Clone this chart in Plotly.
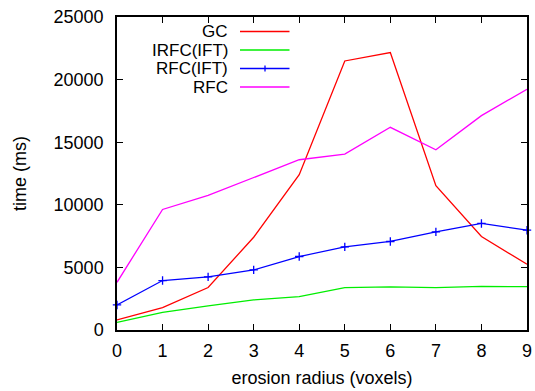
import plotly.graph_objects as go

x_vals = [0, 1, 2, 3, 4, 5, 6, 7, 8, 9]
gc = [800, 1790, 3390, 7410, 12400, 21490, 22160, 11520, 7470, 5250]
irfc_ift = [610, 1410, 1920, 2400, 2670, 3390, 3440, 3390, 3490, 3460]
rfc_ift = [2000, 3950, 4240, 4800, 5870, 6640, 7070, 7840, 8510, 7970]
rfc = [3810, 9630, 10750, 12150, 13600, 14050, 16190, 14400, 17120, 19230]
y_ticks = [0, 5000, 10000, 15000, 20000, 25000]

series_names = ["GC", "IRFC(IFT)", "RFC(IFT)", "RFC"]
series_colors = ["#ff0000", "#00ee00", "#0000ff", "#ff00ff"]
series_data = [gc, irfc_ift, rfc_ift, rfc]

FONT = "Liberation Sans, Arial, Helvetica, sans-serif"
FS = 18
LFS = 17

fig = go.Figure()
for name, color, data in zip(series_names, series_colors, series_data):
    fig.add_trace(go.Scatter(
        x=x_vals, y=data, name=name, mode="lines+markers" if name == "RFC(IFT)" else "lines",
        line=dict(color=color, width=1.3),
        marker=dict(symbol="cross-thin", size=6, line=dict(color=color, width=1.3)),
        showlegend=False, cliponaxis=False,
    ))

# custom gnuplot-style legend (text right-aligned, sample to the right)
W, H = 410.0, 313.0
legend_y_px = [14.5, 33, 51.5, 70]  # offsets from top of plot area
shapes = []
annotations = []
for name, color, ypx in zip(series_names, series_colors, legend_y_px):
    yp = 1 - ypx / H
    annotations.append(dict(text=name, x=(230 - 117) / W, y=yp, xref="paper", yref="paper",
                            xanchor="right", yanchor="middle", showarrow=False,
                            font=dict(family=FONT, size=LFS, color="black")))
    shapes.append(dict(type="line", xref="paper", yref="paper",
                       x0=(240 - 117) / W, x1=(289.5 - 117) / W, y0=yp, y1=yp,
                       line=dict(color=color, width=1.3)))
    if name == "RFC(IFT)":
        xc = (265 - 117) / W
        shapes.append(dict(type="line", xref="paper", yref="paper",
                           x0=xc, x1=xc, y0=yp - 3 / H, y1=yp + 3 / H,
                           line=dict(color=color, width=1.3)))

fig.update_layout(
    width=535, height=391,
    margin=dict(l=117, r=8, t=17, b=61),
    paper_bgcolor="white", plot_bgcolor="white",
    font=dict(family=FONT, size=FS, color="black"),
    shapes=shapes, annotations=annotations,
)
fig.update_xaxes(
    range=[0, 9], tickmode="array", tickvals=x_vals, ticktext=[str(v) for v in x_vals],
    ticks="inside", ticklen=6, tickcolor="black", tickwidth=1,
    showline=True, linecolor="black", linewidth=1.5, mirror="allticks",
    showgrid=False, zeroline=False, ticklabeloverflow="allow", ticklabelstandoff=4,
    title=dict(text="erosion radius (voxels)", standoff=11, font=dict(size=FS)),
    tickfont=dict(size=FS), automargin=False,
)
fig.update_yaxes(
    range=[0, 25000], tickmode="array", tickvals=y_ticks,
    ticktext=[str(v) for v in y_ticks],
    ticks="inside", ticklen=6, tickcolor="black", tickwidth=1,
    showline=True, linecolor="black", linewidth=1.5, mirror="allticks",
    showgrid=False, zeroline=False, ticklabelstandoff=8,
    title=dict(text="time (ms)", standoff=22, font=dict(size=FS)),
    tickfont=dict(size=FS), automargin=False,
)

fig.write_html("out.html", config={"displayModeBar": False},
               post_script="document.body.style.margin='0';document.body.style.overflow='hidden';")
